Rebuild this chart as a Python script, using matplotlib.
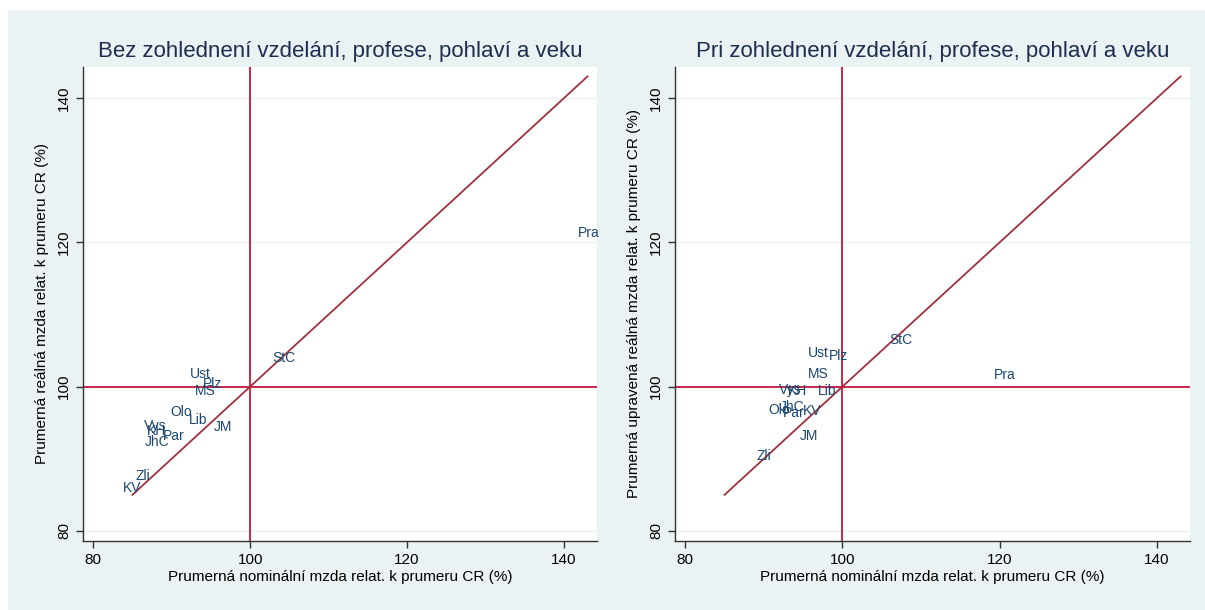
import matplotlib
matplotlib.use("Agg")
import matplotlib.pyplot as plt
from matplotlib.patches import Rectangle

plt.rcParams['font.family'] = ['Liberation Sans', 'DejaVu Sans']

# Region codes
labels_left = ["StC", "Ust", "Plz", "MS", "Olo", "Lib", "JM", "Vys", "KH", "Par", "JhC", "Zli", "KV", "Pra"]
nominal_left = [102.3, 91.8, 93.5, 92.4, 89.3, 91.7, 94.8, 85.9, 86.3, 88.4, 86.0, 84.8, 83.3, 141.2]
real_left = [104.0, 101.8, 100.4, 99.35, 96.5, 95.4, 94.4, 94.6, 93.8, 93.1, 92.3, 87.6, 86.0, 121.3]

labels_right = ["StC", "Ust", "Plz", "MS", "Vys", "KH", "Lib", "Olo", "JhC", "Par", "KV", "JM", "Zli", "Pra"]
nominal_right = [105.4, 95.1, 97.8, 95.1, 91.4, 92.5, 96.4, 90.1, 91.5, 91.9, 94.4, 94.0, 88.5, 118.7]
real_right = [106.5, 104.7, 104.2, 101.7, 99.5, 99.45, 99.45, 96.8, 97.2, 96.3, 96.6, 93.1, 90.45, 101.6]

diag = [85, 143]
ticks = [80, 100, 120, 140]

titles = ["Bez zohlednení vzdelání, profese, pohlaví a veku",
          "Pri zohlednení vzdelání, profese, pohlaví a veku"]
xlabel = "Prumerná nominální mzda relat. k prumeru CR (%)"
ylabels = ["Prumerná reálná mzda relat. k prumeru CR (%)",
           "Prumerná upravená reálná mzda relat. k prumeru CR (%)"]

BG = "#EAF2F3"
NAVY = "#1A476F"
RED = "#C8143C"
DIAG = "#A03040"

fig = plt.figure(figsize=(12.05, 6.1), dpi=100)
fig.patch.set_facecolor("white")
fig.patches.append(Rectangle((8 / 1205, 0), 1 - 8 / 1205, 1 - 10 / 610,
                             transform=fig.transFigure, facecolor=BG,
                             edgecolor="none", zorder=-10))

positions = [[83 / 1205, 1 - 541 / 610, 514 / 1205, 474 / 610],
             [675 / 1205, 1 - 541 / 610, 515 / 1205, 474 / 610]]
datasets = [(labels_left, nominal_left, real_left), (labels_right, nominal_right, real_right)]

for i in range(2):
    ax = fig.add_axes(positions[i])
    ax.set_facecolor("white")
    labs, xs, ys = datasets[i]
    ax.set_xlim(78.7, 144.2)
    ax.set_ylim(78.6, 144.3)
    for t in ticks:
        ax.axhline(t, color="#EAF2F3", lw=1.0, zorder=0)
    ax.axhline(100, color=RED, lw=1.3, zorder=2)
    ax.axvline(100, color=RED, lw=1.3, zorder=2)
    ax.plot(diag, diag, color=DIAG, lw=1.3, zorder=3)
    for lab, x, y in zip(labs, xs, ys):
        ax.annotate(lab, (x, y), xytext=(3, 0), textcoords="offset points",
                    ha="left", va="center", fontsize=10, color=NAVY, zorder=4)
    ax.set_xticks(ticks)
    ax.set_yticks(ticks)
    ax.set_xticklabels([str(t) for t in ticks], fontsize=11)
    ax.set_yticklabels([str(t) for t in ticks], fontsize=11, rotation=90, va="center")
    ax.tick_params(direction="out", length=5, width=1, color="#333333")
    for s in ["top", "right"]:
        ax.spines[s].set_visible(False)
    for s in ["left", "bottom"]:
        ax.spines[s].set_color("#333333")
        ax.spines[s].set_linewidth(1)
    ax.set_xlabel(xlabel, fontsize=11, labelpad=2)
    ax.set_ylabel(ylabels[i], fontsize=11, labelpad=6)
    ax.set_title(titles[i], fontsize=16, color="#1E2D50", pad=7)

fig.savefig("out.png", dpi=100, facecolor=fig.get_facecolor())
